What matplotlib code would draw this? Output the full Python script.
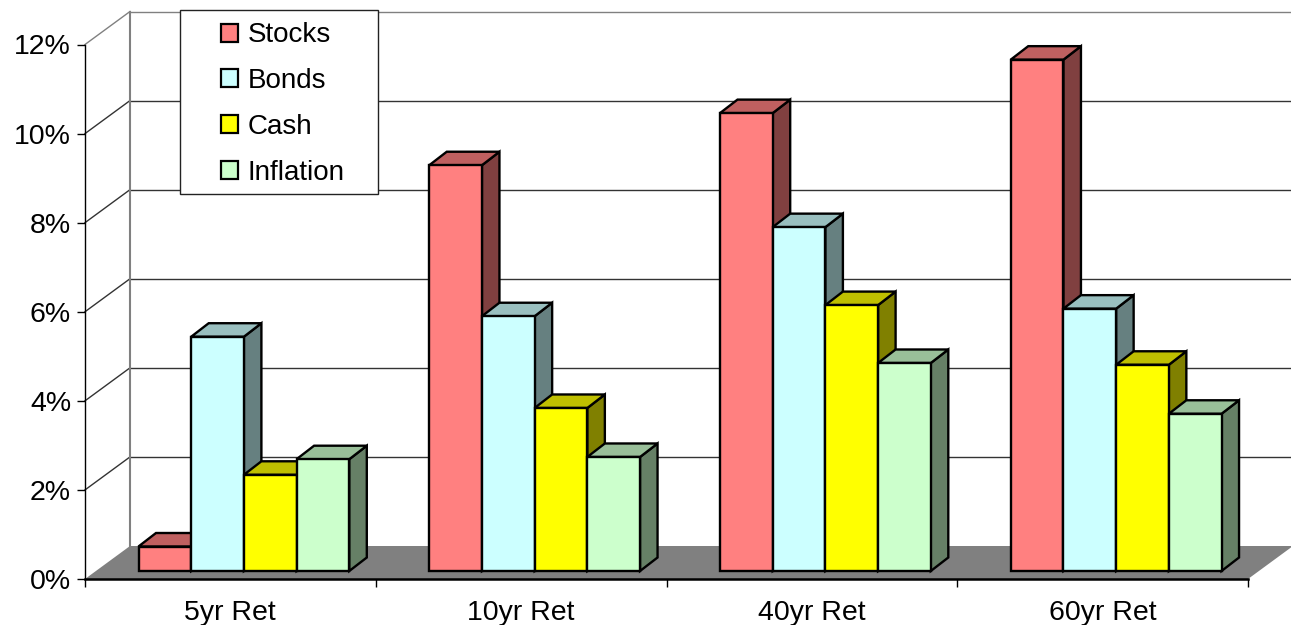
import matplotlib.pyplot as plt
from matplotlib.patches import Polygon, Rectangle

plt.rcParams['font.family'] = ['Liberation Sans', 'DejaVu Sans']

categories = ['5yr Ret', '10yr Ret', '40yr Ret', '60yr Ret']
stocks = [0.55, 9.11, 10.28, 11.48]
bonds = [5.26, 5.72, 7.72, 5.89]
cash = [2.16, 3.66, 5.97, 4.63]
inflation = [2.51, 2.56, 4.67, 3.53]
series_names = ['Stocks', 'Bonds', 'Cash', 'Inflation']
y_ticks = [0, 2, 4, 6, 8, 10, 12]

# front, top and side colours of each series
front_colors = ['#FF8080', '#CCFFFF', '#FFFF00', '#CCFFCC']
top_colors = ['#BF6060', '#99BFBF', '#BFBF00', '#99BF99']
side_colors = ['#804040', '#668080', '#808000', '#668066']

W, H = 1291, 625
X0, X1, Y0, Y12 = 85, 1248, 579, 44.5
px_x = 4 / (X1 - X0)      # data units per pixel
px_y = 12 / (Y0 - Y12)

fig = plt.figure(figsize=(W / 100, H / 100), dpi=100)
ax = fig.add_axes([X0 / W, 1 - Y0 / H, (X1 - X0) / W, (Y0 - Y12) / H])
ax.set_xlim(0, 4)
ax.set_ylim(0, 12)

# depth of the chart box and of the bars
wall_dx, wall_dy = 45 * px_x, 33 * px_y
bar_dx, bar_dy = 17.5 * px_x, 13.5 * px_y
base_y = 8 * px_y
group_start = 53.5 * px_x
bar_w = 52.7 * px_x

# back wall and floor
for v in y_ticks[1:]:
    c = '#808080' if v == 12 else '#333333'
    ax.plot([0, wall_dx], [v, v + wall_dy], color=c, lw=1.0, clip_on=False, zorder=1)
    ax.plot([wall_dx, 4 + wall_dx], [v + wall_dy] * 2, color=c, lw=1.0, clip_on=False, zorder=1)
ax.plot([wall_dx, wall_dx], [wall_dy, 12 + wall_dy], color='#808080', lw=1.5, clip_on=False, zorder=1)
ax.add_patch(Polygon([(0, 0), (wall_dx, wall_dy), (4 + wall_dx, wall_dy), (4, 0)],
                     fc='#808080', ec='none', clip_on=False, zorder=2))


def draw_bar(x, value, k, z):
    b = base_y
    t = base_y + value
    r = x + bar_w
    side = [(r, b), (r + bar_dx, b + bar_dy), (r + bar_dx, t + bar_dy), (r, t)]
    top = [(x, t), (r, t), (r + bar_dx, t + bar_dy), (x + bar_dx, t + bar_dy)]
    front = [(x, b), (r, b), (r, t), (x, t)]
    for pts, col in ((side, side_colors[k]), (top, top_colors[k]), (front, front_colors[k])):
        ax.add_patch(Polygon(pts, fc=col, ec='black', lw=1.7, joinstyle='miter',
                             clip_on=False, zorder=z))


z = 3
for i in range(len(categories)):
    for k, vals in enumerate([stocks, bonds, cash, inflation]):
        draw_bar(i + group_start + k * bar_w, vals[i], k, z)
        z += 1

# axes
for s in ('top', 'right'):
    ax.spines[s].set_visible(False)
ax.spines['left'].set_linewidth(1.0)
ax.spines['bottom'].set_linewidth(1.8)
ax.patch.set_visible(False)
ax.set_yticks(y_ticks, [str(v) + '%' for v in y_ticks])
ax.set_xticks(range(5), [''] * 5)
ax.set_xticks([i + 0.5 for i in range(4)], categories, minor=True)
ax.tick_params(axis='y', length=6, width=1.0, pad=4, labelsize=20.5)
ax.tick_params(axis='x', which='major', length=6, width=1.0)
ax.tick_params(axis='x', which='minor', length=0, pad=15, labelsize=20.5)

# legend box
ax.add_patch(Rectangle((180 / W, 1 - 194 / H), 198 / W, 184.5 / H, transform=fig.transFigure,
                       fc='white', ec='#222222', lw=1.0, clip_on=False, zorder=50))
handles = [Rectangle((0, 0), 1, 1, fc=c, ec='black', lw=1.6) for c in front_colors]
leg = ax.legend(handles, series_names, loc='upper left', bbox_to_anchor=(220.5 / W, 1 - 22.5 / H),
                bbox_transform=fig.transFigure, frameon=False, fontsize=20, borderpad=0,
                borderaxespad=0, handlelength=0.62, handleheight=0.62, handletextpad=0.36,
                labelspacing=0.71)
leg.set_zorder(60)

fig.savefig('out.png', dpi=100)
